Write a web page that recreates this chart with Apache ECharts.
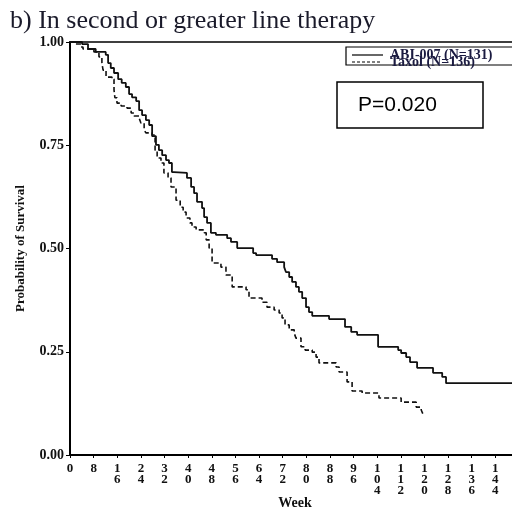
<!DOCTYPE html>
<html>
<head>
<meta charset="utf-8">
<script src="https://cdn.jsdelivr.net/npm/echarts@6/dist/echarts.min.js"></script>
<style>
  html, body { margin: 0; padding: 0; background: #fff; overflow: hidden; }
  /* chart is wider than the window: the right end of the plot is cut off like in the original */
  #chart { width: 540px; height: 512px; }
</style>
</head>
<body>
<div id="chart"></div>
<script>
// ABI-007 (solid) - week of each drop and survival after it
var abiWeeks = [0, 4.1, 6.1, 8.7, 12.1, 12.9, 13.8, 14.9, 16.3, 17.5, 18.9, 20.0, 21.0, 22.4, 23.4, 24.4, 25.7, 26.8, 27.8, 29.1,
  30.1, 31.2, 32.5, 33.5, 34.5, 35.2, 39.6, 41.0, 42.0, 43.0, 44.7, 45.4, 46.4, 47.7, 49.4, 53.2, 54.5, 56.6, 62.0, 63.0,
  68.4, 70.1, 72.5, 73.1, 74.2, 75.2, 76.5, 77.5, 78.6, 79.9, 80.9, 82.0, 87.7, 93.1, 95.2, 97.2, 104.3, 111.1, 112.1, 113.8,
  115.1, 117.5, 122.9, 126.0, 127.3, 152];
var abiSurv = [1.0, 0.995, 0.983, 0.976, 0.969, 0.949, 0.937, 0.925, 0.910, 0.901, 0.891, 0.874, 0.866, 0.857, 0.835, 0.823, 0.811, 0.799, 0.772, 0.751,
  0.738, 0.726, 0.714, 0.707, 0.685, 0.683, 0.671, 0.649, 0.634, 0.613, 0.598, 0.576, 0.562, 0.538, 0.533, 0.525, 0.516, 0.501, 0.489, 0.484,
  0.475, 0.467, 0.455, 0.443, 0.431, 0.419, 0.407, 0.395, 0.380, 0.358, 0.346, 0.337, 0.329, 0.310, 0.298, 0.291, 0.262, 0.254, 0.247, 0.237,
  0.225, 0.211, 0.199, 0.189, 0.174, 0.174];

// Taxol (dashed)
var taxolWeeks = [0, 1.4, 3.7, 4.4, 8.1, 9.8, 10.8, 11.2, 12.2, 14.2, 14.9, 15.2, 15.9, 17.3, 19.3, 20.7, 21.7, 23.4, 24.0, 25.1,
  25.7, 27.8, 28.8, 29.5, 30.8, 31.8, 33.2, 34.2, 35.9, 37.3, 38.3, 39.3, 40.6, 41.3, 42.7, 45.4, 46.1, 47.1, 48.1, 51.1,
  52.8, 54.9, 59.6, 60.6, 65.0, 66.7, 69.1, 70.8, 71.8, 72.8, 74.2, 75.9, 76.5, 78.2, 79.6, 82.0, 83.3, 84.3, 90.1, 91.1,
  93.8, 95.5, 98.9, 104.6, 112.1, 117.2, 118.9, 119.5, 120];
var taxolSurv = [1.0, 0.995, 0.988, 0.983, 0.976, 0.964, 0.949, 0.932, 0.915, 0.910, 0.884, 0.865, 0.852, 0.845, 0.840, 0.828, 0.821, 0.816, 0.804, 0.787,
  0.780, 0.775, 0.738, 0.719, 0.707, 0.683, 0.671, 0.649, 0.617, 0.600, 0.588, 0.574, 0.562, 0.552, 0.545, 0.538, 0.521, 0.501, 0.465, 0.455,
  0.436, 0.407, 0.400, 0.380, 0.370, 0.358, 0.351, 0.344, 0.332, 0.315, 0.303, 0.295, 0.283, 0.262, 0.254, 0.249, 0.237, 0.223, 0.213, 0.201,
  0.177, 0.155, 0.150, 0.138, 0.128, 0.116, 0.109, 0.099, 0.099];

var seriesNames = ["ABI-007 (N=131)", "Taxol (N=136)"];
var titleText = "b) In second or greater line therapy";
var xName = "Week";
var yName = "Probability of Survival";
var pText = "P=0.020";

var serif = "'Liberation Serif', 'Times New Roman', serif";

function pairs(xs, ys) {
  return xs.map(function (x, i) { return [x, ys[i]]; });
}

var chartOptions = {
  animation: false,
  backgroundColor: "#fff",
  title: {
    text: titleText,
    left: 5,
    top: 3,
    textStyle: { fontFamily: serif, fontSize: 26, fontWeight: "normal", color: "#1a1a2a" },
  },
  grid: {
    left: 70,
    right: 21,
    top: 42,
    bottom: 57,
    outerBoundsMode: "none", // keep the plot where it is, labels may sit near the edge
    show: true,
    borderColor: "#000",
    borderWidth: 1.5,
    containLabel: false,
  },
  xAxis: {
    type: "value",
    min: 0,
    max: 152,
    interval: 8,
    axisLine: { lineStyle: { color: "#000", width: 2 } },
    axisTick: { show: true, length: 3, lineStyle: { color: "#000" } },
    axisLabel: {
      margin: 8,
      fontFamily: serif,
      fontWeight: "bold",
      fontSize: 13,
      lineHeight: 11,
      color: "#111",
      verticalAlign: "top",
      formatter: function (v) { return String(v).split("").join("\n"); },
    },
    splitLine: { show: false },
  },
  yAxis: {
    type: "value",
    min: 0,
    max: 1,
    interval: 0.25,
    name: yName,
    nameLocation: "middle",
    nameGap: 43,
    nameTextStyle: { fontFamily: serif, fontWeight: "bold", fontSize: 13, color: "#111" },
    axisLine: { show: true, lineStyle: { color: "#000", width: 2 } },
    axisTick: { show: true, length: 4, lineStyle: { color: "#000" } },
    axisLabel: {
      margin: 6,
      fontFamily: serif,
      fontWeight: "bold",
      fontSize: 14,
      color: "#111",
      formatter: function (v) { return v.toFixed(2); },
    },
    splitLine: { show: false },
  },
  series: [
    {
      name: seriesNames[0],
      type: "line",
      step: "end",
      showSymbol: false,
      lineStyle: { color: "#111", width: 1.8 },
      data: pairs(abiWeeks, abiSurv),
    },
    {
      name: seriesNames[1],
      type: "line",
      step: "end",
      showSymbol: false,
      lineStyle: { color: "#111", width: 1.6, type: [5, 3] },
      data: pairs(taxolWeeks, taxolSurv),
    },
  ],
  graphic: [
    // x axis title (placed by hand, the axis name gets pushed off the page)
    { type: "text", x: 295, y: 503, style: { text: xName, fontFamily: serif, fontWeight: "bold", fontSize: 14, fill: "#111", align: "center", verticalAlign: "middle" } },
    // legend box
    { type: "rect", shape: { x: 346, y: 47, width: 190, height: 18 }, style: { fill: "#fff", stroke: "#000", lineWidth: 1.2 } },
    { type: "line", shape: { x1: 352, y1: 55, x2: 383, y2: 55 }, style: { stroke: "#000", lineWidth: 1.2 } },
    { type: "line", shape: { x1: 352, y1: 62, x2: 381, y2: 62 }, style: { stroke: "#000", lineWidth: 1.2, lineDash: [3, 2] } },
    { type: "text", x: 390, y: 55, style: { text: seriesNames[0], fontFamily: serif, fontWeight: "bold", fontSize: 14, fill: "#1a1a40", verticalAlign: "middle" } },
    { type: "text", x: 390, y: 62, style: { text: seriesNames[1], fontFamily: serif, fontWeight: "bold", fontSize: 14, fill: "#1a1a40", verticalAlign: "middle" } },
    // p-value box
    { type: "rect", shape: { x: 337, y: 82, width: 146, height: 46 }, style: { fill: "#fff", stroke: "#000", lineWidth: 1.5 } },
    { type: "text", x: 358, y: 105, style: { text: pText, fontFamily: "'Liberation Sans', Arial, sans-serif", fontSize: 21, fill: "#000", verticalAlign: "middle" } },
  ],
};

var myChart = echarts.init(document.getElementById("chart"));
myChart.setOption(chartOptions);
</script>
</body>
</html>
